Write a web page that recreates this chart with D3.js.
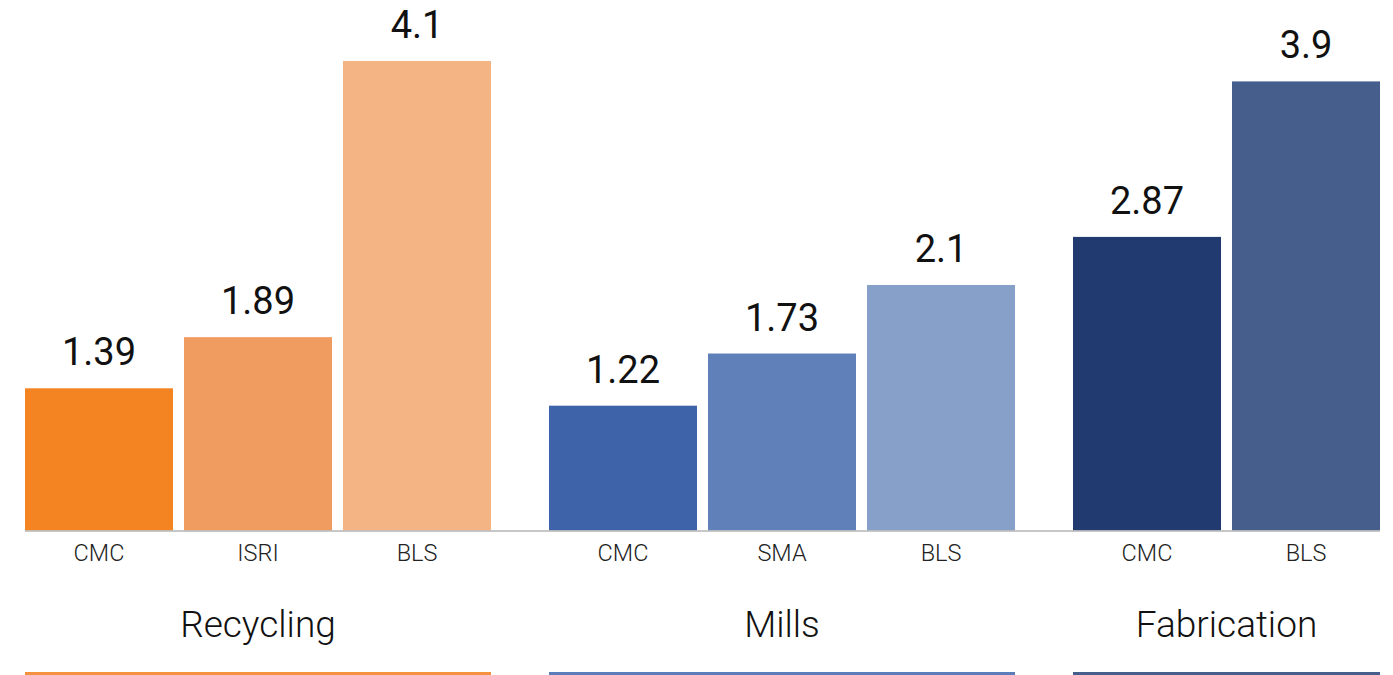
<!DOCTYPE html>
<html>
<head>
<meta charset="utf-8">
<script src="https://cdn.jsdelivr.net/npm/d3@7"></script>
<style>
  html, body { margin: 0; padding: 0; background: #fff; }
  svg { display: block; font-family: Roboto, "Noto Sans", sans-serif; }
</style>
</head>
<body>
<svg id="chart" width="1393" height="675"></svg>
<script>
// ---- data ----
const groups = ["Recycling", "Mills", "Fabrication"];
const groupOf = [0, 0, 0, 1, 1, 1, 2, 2];
const categories = ["CMC", "ISRI", "BLS", "CMC", "SMA", "BLS", "CMC", "BLS"];
const barValues = [1.39, 1.89, 4.59, 1.22, 1.73, 2.40, 2.87, 4.39];
const valueLabels = ["1.39", "1.89", "4.1", "1.22", "1.73", "2.1", "2.87", "3.9"];
const barColors = ["#F48322", "#F09C60", "#F4B484", "#3E63A8", "#5F80B8", "#87A0CA", "#213B71", "#465E8B"];
const groupColors = ["#F4913F", "#5B7DBA", "#465E8B"];

// ---- layout ----
const svg = d3.select("#chart");
const baseY = 530.5;
const step = 159, barW = 148, gapExtra = 47;
const gapU = gapExtra / step;
const unitPos = categories.map((c, i) => i + groupOf[i] * gapU);
const totalU = unitPos[unitPos.length - 1] + barW / step;
const x = d3.scaleLinear().domain([0, totalU]).range([25, 25 + totalU * step]);
const bw = x(barW / step) - x(0);
const y = d3.scaleLinear().domain([0, 5]).range([baseY, baseY - 511.5]);

const data = categories.map((c, i) => ({
  cat: c, g: groupOf[i], v: barValues[i], label: valueLabels[i], color: barColors[i], u: unitPos[i]
}));

// bars
svg.append("g").selectAll("rect").data(data).join("rect")
  .attr("x", d => x(d.u)).attr("width", bw)
  .attr("y", d => y(d.v)).attr("height", d => y(0) - y(d.v))
  .attr("fill", d => d.color);

// baseline
svg.append("line")
  .attr("x1", x(0)).attr("x2", x(totalU))
  .attr("y1", baseY + 0.5).attr("y2", baseY + 0.5)
  .attr("stroke", "#b4b4b4").attr("stroke-width", 1.5);

// value labels
svg.append("g").selectAll("text").data(data).join("text")
  .attr("x", d => x(d.u) + bw / 2)
  .attr("y", d => y(d.v) - 23)
  .attr("text-anchor", "middle")
  .attr("font-size", 38)
  .attr("fill", "#111")
  .text(d => d.label);

// category labels
svg.append("g").selectAll("text").data(data).join("text")
  .attr("x", d => x(d.u) + bw / 2)
  .attr("y", 561)
  .attr("text-anchor", "middle")
  .attr("font-size", 23.5)
  .attr("font-weight", 300)
  .attr("fill", "#222")
  .text(d => d.cat);

// group labels and underlines
const groupExtent = groups.map((gname, g) => {
  const items = data.filter(d => d.g === g);
  const x0 = x(items[0].u);
  const x1 = x(items[items.length - 1].u) + bw;
  return { name: gname, x0, x1, color: groupColors[g] };
});

svg.append("g").selectAll("text").data(groupExtent).join("text")
  .attr("x", d => (d.x0 + d.x1) / 2)
  .attr("y", 637)
  .attr("text-anchor", "middle")
  .attr("font-size", 37)
  .attr("font-weight", 300)
  .attr("fill", "#111")
  .text(d => d.name);

svg.append("g").selectAll("rect").data(groupExtent).join("rect")
  .attr("x", d => d.x0).attr("width", d => d.x1 - d.x0)
  .attr("y", 672).attr("height", 3)
  .attr("fill", d => d.color);
</script>
</body>
</html>
